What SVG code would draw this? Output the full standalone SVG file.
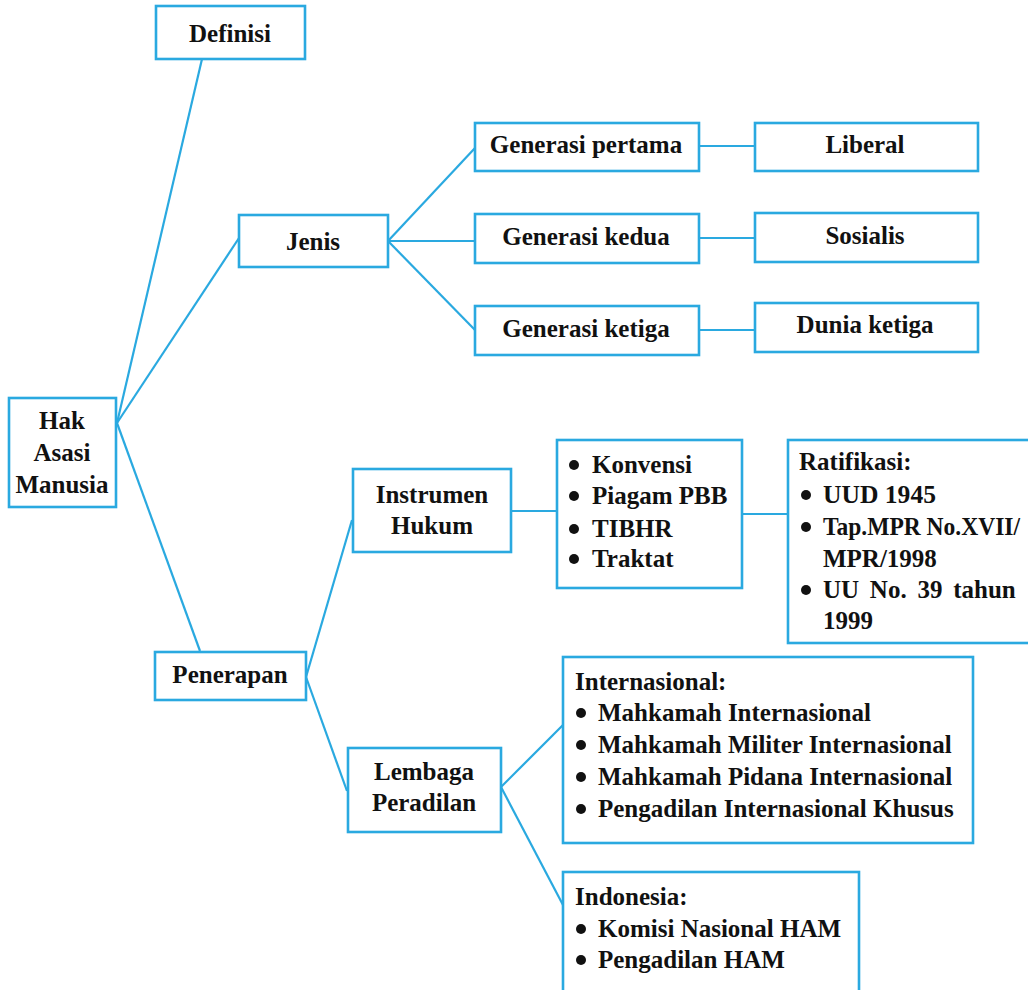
<svg xmlns="http://www.w3.org/2000/svg" width="1028" height="990" viewBox="0 0 1028 990">
<style>
.box{fill:#fff;stroke:#2aa9e0;stroke-width:2.6}
.ln{fill:none;stroke:#2aa9e0;stroke-width:2.2}
text{font-family:"Liberation Serif","Times New Roman",serif;font-weight:bold;font-size:25px;fill:#111}
.c{text-anchor:middle}
.b{fill:#111}
</style>
<rect width="1028" height="990" fill="#fff"/>
<g id="connectors">
<line class="ln" x1="202" y1="59" x2="117" y2="423"/>
<line class="ln" x1="239" y1="238" x2="117" y2="423"/>
<line class="ln" x1="117" y1="423" x2="200" y2="651"/>
<line class="ln" x1="388" y1="241" x2="475" y2="148"/>
<line class="ln" x1="388" y1="241" x2="475" y2="241"/>
<line class="ln" x1="388" y1="241" x2="475" y2="330"/>
<line class="ln" x1="699" y1="146" x2="755" y2="146"/>
<line class="ln" x1="699" y1="238" x2="755" y2="238"/>
<line class="ln" x1="699" y1="330" x2="755" y2="330"/>
<line class="ln" x1="306" y1="677" x2="352" y2="520"/>
<line class="ln" x1="306" y1="677" x2="347" y2="791"/>
<line class="ln" x1="511" y1="511" x2="557" y2="511"/>
<line class="ln" x1="742" y1="514" x2="788" y2="514"/>
<line class="ln" x1="501" y1="787" x2="563" y2="725"/>
<line class="ln" x1="501" y1="787" x2="563" y2="905"/>
</g>
<g id="definisi"><rect class="box" x="156" y="6" width="149" height="53"/><text class="c" x="230" y="42">Definisi</text></g>
<g id="jenis"><rect class="box" x="239" y="215" width="149" height="52"/><text class="c" x="313" y="250">Jenis</text></g>
<g id="ham"><rect class="box" x="9" y="398" width="107" height="109"/><text class="c" x="62" y="429">Hak</text><text class="c" x="62" y="461">Asasi</text><text class="c" x="62" y="493">Manusia</text></g>
<g id="penerapan"><rect class="box" x="155" y="652" width="151" height="48"/><text class="c" x="230" y="683">Penerapan</text></g>
<g id="gen1"><rect class="box" x="475" y="123" width="224" height="48"/><text class="c" x="586" y="153">Generasi pertama</text></g>
<g id="gen2"><rect class="box" x="475" y="214" width="224" height="49"/><text class="c" x="586" y="245">Generasi kedua</text></g>
<g id="gen3"><rect class="box" x="475" y="306" width="224" height="49"/><text class="c" x="586" y="337">Generasi ketiga</text></g>
<g id="liberal"><rect class="box" x="755" y="123" width="223" height="48"/><text class="c" x="865" y="153">Liberal</text></g>
<g id="sosialis"><rect class="box" x="755" y="213" width="223" height="49"/><text class="c" x="865" y="244">Sosialis</text></g>
<g id="dunia"><rect class="box" x="755" y="303" width="223" height="49"/><text class="c" x="865" y="333">Dunia ketiga</text></g>
<g id="instrumen"><rect class="box" x="353" y="469" width="158" height="83"/><text class="c" x="432" y="503">Instrumen</text><text class="c" x="432" y="534">Hukum</text></g>
<g id="lembaga"><rect class="box" x="348" y="748" width="153" height="84"/><text class="c" x="424" y="780">Lembaga</text><text class="c" x="424" y="811">Peradilan</text></g>
<g id="instrumen-list"><rect class="box" x="557" y="440" width="185" height="148"/>
<circle class="b" cx="574" cy="465" r="5"/><text x="592" y="473">Konvensi</text>
<circle class="b" cx="574" cy="496" r="5"/><text x="592" y="504">Piagam PBB</text>
<circle class="b" cx="574" cy="529" r="5"/><text x="592" y="537">TIBHR</text>
<circle class="b" cx="574" cy="559" r="5"/><text x="592" y="567">Traktat</text>
</g>
<g id="ratifikasi"><rect class="box" x="788" y="440" width="260" height="203"/>
<text x="799" y="470">Ratifikasi:</text>
<circle class="b" cx="806" cy="495" r="5"/><text x="823" y="503" textLength="113" lengthAdjust="spacingAndGlyphs">UUD 1945</text>
<circle class="b" cx="806" cy="527" r="5"/><text x="823" y="535" textLength="197" lengthAdjust="spacingAndGlyphs">Tap.MPR No.XVII/</text>
<text x="823" y="567">MPR/1998</text>
<circle class="b" cx="806" cy="590" r="5"/><text x="823" y="598" word-spacing="4.5">UU No. 39 tahun</text>
<text x="823" y="629">1999</text>
</g>
<g id="internasional"><rect class="box" x="563" y="657" width="410" height="186"/>
<text x="575" y="690">Internasional:</text>
<circle class="b" cx="581" cy="713" r="5"/><text x="598" y="721">Mahkamah Internasional</text>
<circle class="b" cx="581" cy="745" r="5"/><text x="598" y="753">Mahkamah Militer Internasional</text>
<circle class="b" cx="581" cy="777" r="5"/><text x="598" y="785">Mahkamah Pidana Internasional</text>
<circle class="b" cx="581" cy="809" r="5"/><text x="598" y="817">Pengadilan Internasional Khusus</text>
</g>
<g id="indonesia"><rect class="box" x="563" y="872" width="296" height="140"/>
<text x="575" y="905">Indonesia:</text>
<circle class="b" cx="581" cy="929" r="5"/><text x="598" y="937">Komisi Nasional HAM</text>
<circle class="b" cx="581" cy="960" r="5"/><text x="598" y="968">Pengadilan HAM</text>
</g>
</svg>
